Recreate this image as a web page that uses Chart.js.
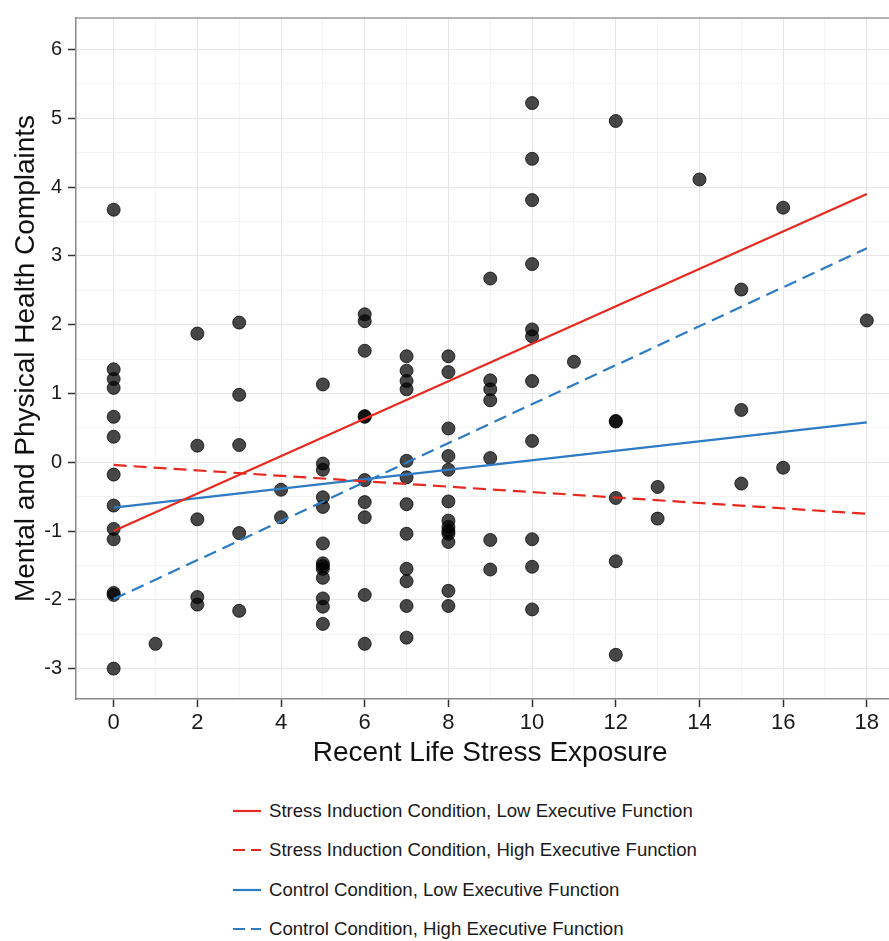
<!DOCTYPE html>
<html>
<head>
<meta charset="utf-8">
<script src="https://cdn.jsdelivr.net/npm/chart.js@4.4.1/dist/chart.umd.min.js"></script>
<style>
  html, body { margin: 0; padding: 0; background: #fff; overflow: hidden; }
  #wrap { position: relative; width: 889px; height: 941px; overflow: hidden; }
  #plotBox { position: absolute; left: 0; top: 0; width: 912px; height: 780px; }
  #legend {
    position: absolute; left: 233px; top: 791px;
    font-family: "Liberation Sans", Arial, sans-serif; font-size: 18.6px; color: #1a1a1a;
  }
  .item { display: flex; align-items: center; height: 39.5px; white-space: nowrap; }
  .item svg { margin-right: 8px; }
</style>
</head>
<body>
<div id="wrap">
  <div id="plotBox"><canvas id="chart"></canvas></div>
  <div id="legend"></div>
</div>
<script>
// recent life stress exposure (x) and the complaint scores seen at each level
const stressLevels = [0, 1, 2, 3, 4, 5, 6, 7, 8, 9, 10, 11, 12, 13, 14, 15, 16, 18];
const complaintsAt = [
    [3.67, 1.35, 1.21, 1.08, 0.66, 0.37, -0.18, -0.63, -0.97, -1.12, -1.90, -1.93, -3.00],
    [-2.64],
    [1.87, 0.24, -0.83, -1.96, -2.07],
    [2.03, 0.98, 0.25, -1.03, -2.16],
    [-0.40, -0.80],
    [1.13, -0.02, -0.11, -0.51, -0.65, -1.18, -1.47, -1.51, -1.55, -1.68, -1.98, -2.10, -2.35],
    [2.15, 2.05, 1.62, 0.66, 0.67, -0.26, -0.58, -0.80, -1.93, -2.64],
    [1.54, 1.33, 1.18, 1.06, 0.02, -0.22, -0.61, -1.04, -1.55, -1.73, -2.09, -2.55],
    [1.54, 1.31, 0.49, 0.09, -0.11, -0.57, -0.85, -0.94, -1.00, -1.04, -1.16, -1.87, -2.09],
    [2.67, 1.19, 1.06, 0.90, 0.06, -1.13, -1.56],
    [5.22, 4.41, 3.81, 2.88, 1.93, 1.83, 1.18, 0.31, -1.12, -1.52, -2.14],
    [1.46],
    [4.96, 0.60, 0.59, -0.52, -1.44, -2.80],
    [-0.36, -0.82],
    [4.11],
    [2.51, 0.76, -0.31],
    [3.70, -0.08],
    [2.06]
];

// fitted lines, values at stress = 0 and stress = 18
const fitStress = [0, 18];
const stressLowEF = [-1.00, 3.90];
const stressHighEF = [-0.04, -0.75];
const controlLowEF = [-0.66, 0.58];
const controlHighEF = [-1.99, 3.11];

const lineLabels = [
    "Stress Induction Condition, Low Executive Function",
    "Stress Induction Condition, High Executive Function",
    "Control Condition, Low Executive Function",
    "Control Condition, High Executive Function"
];

const RED = "#e8291f";
const BLUE = "#2c7bc4";
const FONT = "'Liberation Sans', Arial, sans-serif";

const points = [];
stressLevels.forEach((s, i) => {
    complaintsAt[i].forEach(v => points.push({ x: s, y: v }));
});

function fitLine(label, ys, color, dashed) {
    return {
        label: label,
        data: fitStress.map((x, i) => ({ x: x, y: ys[i] })),
        showLine: true,
        borderColor: color,
        borderWidth: 2.2,
        borderDash: dashed ? [13, 7] : [],
        pointRadius: 0,
        fill: false
    };
}

const isWhole = v => Math.abs(v - Math.round(v)) < 1e-6;

// ggplot-like panel border on the top side (right side is outside the window)
const panelTop = {
    id: "panelTop",
    afterDatasetsDraw(chart) {
        const { ctx, chartArea } = chart;
        ctx.save();
        ctx.strokeStyle = "#9a9a9a";
        ctx.lineWidth = 1.5;
        ctx.beginPath();
        ctx.moveTo(chartArea.left, chartArea.top);
        ctx.lineTo(chartArea.right, chartArea.top);
        ctx.lineTo(chartArea.right, chartArea.bottom);
        ctx.stroke();
        ctx.restore();
    }
};

Chart.defaults.font.family = FONT;

const chart = new Chart(document.getElementById("chart"), {
    type: "scatter",
    data: {
        datasets: [
            fitLine(lineLabels[0], stressLowEF, RED, false),
            fitLine(lineLabels[1], stressHighEF, RED, true),
            fitLine(lineLabels[2], controlLowEF, BLUE, false),
            fitLine(lineLabels[3], controlHighEF, BLUE, true),
            {
                label: "Participants",
                data: points,
                pointRadius: 6.5,
                pointBackgroundColor: "rgba(0,0,0,0.72)",
                pointBorderColor: "rgba(0,0,0,0.75)",
                pointBorderWidth: 1
            }
        ]
    },
    options: {
        responsive: true,
        maintainAspectRatio: false,
        animation: false,
        layout: { padding: { top: 16, right: 0, bottom: 0, left: 0 } },
        plugins: { legend: { display: false }, tooltip: { enabled: false } },
        scales: {
            x: {
                type: "linear",
                min: -0.9,
                max: 18.9,
                afterFit: s => { s.height = 81; },
                ticks: {
                    stepSize: 1,
                    includeBounds: false,
                    autoSkip: false,
                    maxRotation: 0,
                    padding: 3,
                    color: "#1a1a1a",
                    font: { size: 22 },
                    callback: v => (isWhole(v) && Math.round(v) % 2 === 0) ? String(Math.round(v)) : ""
                },
                grid: {
                    color: c => (c.tick && Math.round(c.tick.value) % 2 === 0) ? "#e6e6e6" : "#f3f3f3",
                    tickColor: c => (c.tick && Math.round(c.tick.value) % 2 === 0) ? "#333" : "rgba(0,0,0,0)",
                    tickLength: 8,
                    tickWidth: 1.5
                },
                border: { color: "#8a8a8a", width: 1.5 },
                title: {
                    display: true,
                    text: "Recent Life Stress Exposure",
                    color: "#111",
                    font: { size: 28 },
                    padding: { top: 0, bottom: 10 }
                }
            },
            y: {
                type: "linear",
                min: -3.442,
                max: 6.457,
                afterFit: s => { s.width = 76; },
                ticks: {
                    stepSize: 0.5,
                    includeBounds: false,
                    autoSkip: false,
                    padding: 6,
                    color: "#1a1a1a",
                    font: { size: 20 },
                    callback: v => isWhole(v) ? String(Math.round(v)) : ""
                },
                grid: {
                    color: c => (c.tick && isWhole(c.tick.value)) ? "#e6e6e6" : "#f3f3f3",
                    tickColor: c => (c.tick && isWhole(c.tick.value)) ? "#333" : "rgba(0,0,0,0)",
                    tickLength: 8,
                    tickWidth: 1.5
                },
                border: { color: "#8a8a8a", width: 1.5 },
                title: {
                    display: true,
                    text: "Mental and Physical Health Complaints",
                    color: "#111",
                    font: { size: 28 },
                    padding: { top: 9, bottom: 0 }
                }
            }
        }
    },
    plugins: [panelTop]
});

// legend as html rows, taken from the line datasets
const legendEl = document.getElementById("legend");
chart.data.datasets.filter(d => d.showLine).forEach(d => {
    const dash = d.borderDash.length ? "12 6" : "none";
    legendEl.insertAdjacentHTML("beforeend",
        `<div class="item"><svg width="28" height="4"><line x1="0" y1="2" x2="28" y2="2" stroke="${d.borderColor}" stroke-width="2.2" stroke-dasharray="${dash}"/></svg><span>${d.label}</span></div>`);
});
</script>
</body>
</html>
